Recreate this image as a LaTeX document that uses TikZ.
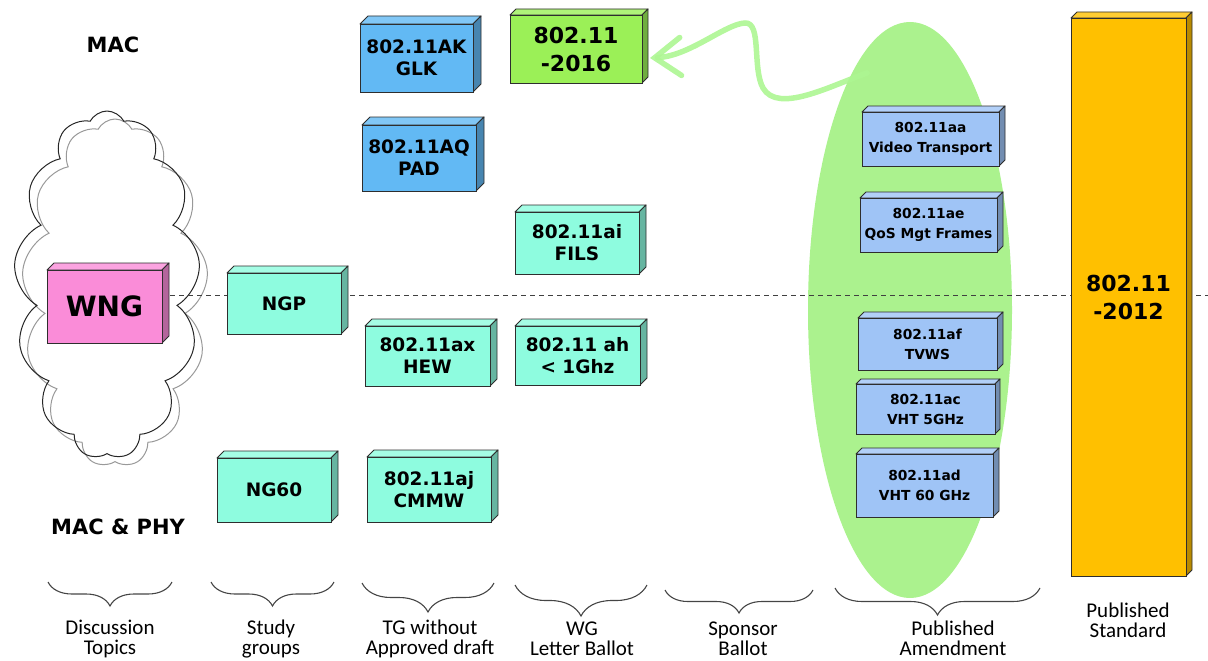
\documentclass[tikz,border=0pt]{standalone}
\usepackage{fontspec}
\setmainfont{DejaVu Sans}
\newfontfamily\labfont{Carlito}
\usetikzlibrary{shapes.geometric,shapes.symbols,arrows.meta,decorations.pathreplacing,calc}
\definecolor{bluec}{HTML}{62B9F4}
\definecolor{ellblue}{HTML}{9FC4F6}
\definecolor{tealc}{HTML}{8EFCDF}
\definecolor{greenc}{HTML}{9BF057}
\definecolor{pinkc}{HTML}{FA8CD8}
\definecolor{ellgreen}{HTML}{ABF28E}
\definecolor{orangec}{HTML}{FFC000}
\definecolor{arrowc}{HTML}{ADF692}
\definecolor{edgec}{HTML}{2E2E2E}
\definecolor{bracec}{HTML}{454545}
\tikzset{
  frontface/.style={draw=edgec, line width=0.9pt, inner sep=0pt, align=center},
  bigtxt/.style={font=\bfseries\fontsize{18.5}{22}\selectfont},
  hugetxt/.style={font=\bfseries\fontsize{22}{28}\selectfont},
  wngtxt/.style={font=\bfseries\fontsize{28}{32}\selectfont},
  smalltxt/.style={font=\bfseries\fontsize{13.8}{20}\selectfont},
  headtxt/.style={font=\bfseries\fontsize{21}{24}\selectfont},
  labtxt/.style={font=\labfont\fontsize{21}{20}\selectfont, align=center, inner sep=0pt},
  bracedec/.style={draw=bracec, line width=1.1pt, decorate},
  cloudline/.style={cloud, cloud puffs=13, cloud puff arc=125, cloud ignores aspect,
    minimum width=186, minimum height=348, line width=1pt},
}
% #1 name, #2 x1, #3 y1, #4 x2, #5 y2, #6 depth, #7 colour, #8 text style, #9 text
\newcommand{\tdbox}[9]{%
  \filldraw[fill=#7!80!white, draw=edgec, line width=0.9pt, line join=round]
    (#2,#3) -- (#2+#6,#3-#6) -- (#4+#6,#3-#6) -- (#4,#3) -- cycle;
  \filldraw[fill=#7!72!black, draw=edgec, line width=0.9pt, line join=round]
    (#4,#3) -- (#4+#6,#3-#6) -- (#4+#6,#5-#6) -- (#4,#5) -- cycle;
  \node[frontface, fill=#7, minimum width={#4-#2}, minimum height={#5-#3}, #8]
    (#1) at ({(#2+#4)/2},{(#3+#5)/2}) {#9};
}
\begin{document}
\begin{tikzpicture}[x=1pt,y=-1pt]
\useasboundingbox (0,0) rectangle (1208,661);

% cloud
\node[cloudline, draw=black!40] (cloudb) at (115,293) {};
\node[cloudline, draw=black!85] (cloudf) at (107,285) {};

% amendment ellipse
\node[ellipse, fill=ellgreen, minimum width=204, minimum height=576, inner sep=0pt] (amend) at (910,310) {};

% headings
\node[headtxt] (mac) at (113,45) {MAC};
\node[headtxt] (macphy) at (118,527) {MAC \& PHY};

% dashed divider
\coordinate (dashend) at (1208,295);
\coordinate (dashstart) at (170,295);
\draw[black!75, line width=1pt, dash pattern=on 5pt off 4pt] (dashstart) -- (dashend);

% boxes
\tdbox{wng}{47}{270}{162}{343}{7}{pinkc}{wngtxt}{WNG}
\tdbox{ngp}{227}{273}{341}{334}{7}{tealc}{bigtxt}{NGP}
\tdbox{ngsixty}{217}{458}{331}{522}{7}{tealc}{bigtxt}{NG60}
\tdbox{ak}{360}{24}{473}{92}{8}{bluec}{bigtxt}{802.11AK\\GLK}
\tdbox{aq}{362}{125}{476}{191}{8}{bluec}{bigtxt}{802.11AQ\\PAD}
\tdbox{ax}{365}{326}{490}{386}{7}{tealc}{bigtxt}{802.11ax\\HEW}
\tdbox{aj}{367}{457}{491}{522}{7}{tealc}{bigtxt}{802.11aj\\CMMW}
\tdbox{yr}{510}{15}{642}{83}{6}{greenc}{hugetxt}{802.11\\-2016}
\tdbox{ai}{515}{212}{639}{274}{7}{tealc}{bigtxt}{802.11ai\\FILS}
\tdbox{ah}{515}{326}{640}{385}{7}{tealc}{bigtxt}{802.11 ah\\< 1Ghz}
\tdbox{aa}{862}{112}{999}{166}{6}{ellblue}{smalltxt}{802.11aa\\Video Transport}
\tdbox{ae}{860}{198}{997}{252}{6}{ellblue}{smalltxt}{802.11ae\\QoS Mgt Frames}
\tdbox{af}{858}{318}{997}{370}{6}{ellblue}{smalltxt}{802.11af\\TVWS}
\tdbox{ac}{856}{384}{995}{434}{5}{ellblue}{smalltxt}{802.11ac\\VHT 5GHz}
\tdbox{ad}{856}{454}{993}{517}{6}{ellblue}{smalltxt}{802.11ad\\VHT 60 GHz}
\tdbox{std}{1071}{18}{1186}{576}{6}{orangec}{hugetxt}{802.11\\-2012}

% green curved arrow
\coordinate (arrstart) at (867,73);
\coordinate (arrtip) at (650,58);
\draw[arrowc, line width=5.5pt, line cap=round, opacity=0.9,
      -{Straight Barb[length=26pt, width=38pt, line cap=round]}]
  (arrstart) .. controls (830,86) and (778,114) .. (763,88)
  .. controls (752,68) and (762,22) .. (745,23)
  .. controls (725,24) and (690,56) .. (arrtip);

% braces
\draw[bracedec, decoration={brace, mirror, amplitude=24pt}] (48,582) coordinate (b1a) -- (172,582) coordinate (b1b);
\draw[bracedec, decoration={brace, mirror, amplitude=24pt}] (211,582) coordinate (b2a) -- (334,582) coordinate (b2b);
\draw[bracedec, decoration={brace, mirror, amplitude=29pt}] (362,583) coordinate (b3a) -- (494,583) coordinate (b3b);
\draw[bracedec, decoration={brace, mirror, amplitude=31pt}] (515,585) coordinate (b4a) -- (647,585) coordinate (b4b);
\draw[bracedec, decoration={brace, mirror, amplitude=23pt}] (665,590) coordinate (b5a) -- (813,590) coordinate (b5b);
\draw[bracedec, decoration={brace, mirror, amplitude=27pt}] (835,588) coordinate (b6a) -- (1040,588) coordinate (b6b);

% bottom labels
\node[labtxt] (l1) at (110,639) {Discussion\\Topics};
\node[labtxt] (l2) at (271,639) {Study\\groups};
\node[labtxt] (l3) at (430,639) {TG without\\Approved draft};
\node[labtxt] (l4) at (582,639) {WG\\Letter Ballot};
\node[labtxt] (l5) at (743,639) {Sponsor\\Ballot};
\node[labtxt] (l6) at (953,638) {Published\\Amendment};
\node[labtxt] (l7) at (1128,620) {Published\\Standard};
\end{tikzpicture}
\end{document}
